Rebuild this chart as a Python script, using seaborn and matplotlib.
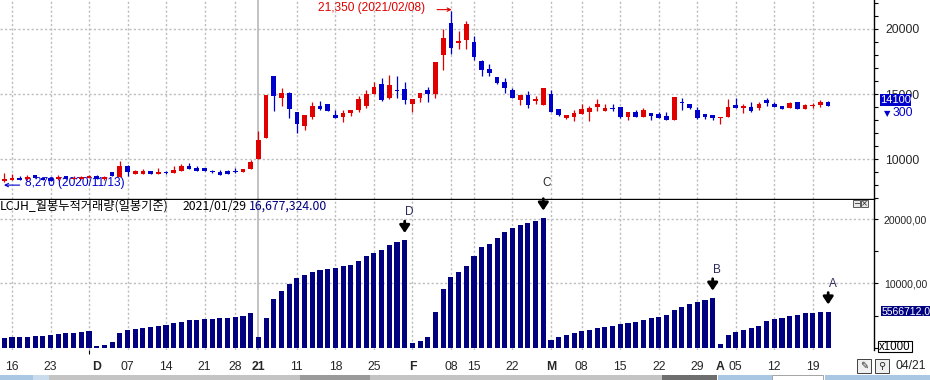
import numpy as np
import pandas as pd
import matplotlib
matplotlib.use("Agg")
import matplotlib.pyplot as plt
import seaborn as sns
from matplotlib.patches import Rectangle

# KRX trading days shown in the chart
holidays = ['2020-12-25', '2020-12-31', '2021-01-01', '2021-02-11', '2021-02-12', '2021-03-01']
dates = pd.bdate_range('2020-11-13', '2021-04-21').drop(pd.to_datetime(holidays))

opens = [8300, 8440, 8590, 8460, 8800, 8590, 8550, 8470, 8720, 8500, 8510, 8590,
         8740, 8470, 9000, 8670, 9510, 8900, 8870, 9100, 8870, 9030, 8970, 9100, 9490, 9330, 9330,
         9100, 9030, 9100, 9130, 9030, 9260,
         10020, 11630, 16410, 14720, 15080, 13630, 12580, 13270, 14090, 14240, 13400, 13270, 13550,
         13800, 14090, 15010, 15780, 14700, 15340, 15390,
         14260, 14700, 15320, 15010, 18000, 20450, 18920, 19150, 18990, 17540, 16920, 16310, 15930,
         15320, 14550, 14930, 14470, 14170,
         15010, 13860, 13160, 13250, 13480, 13630, 14010, 13710, 13930, 14010, 13250, 13630, 13250,
         13550, 13480, 13320, 13010, 14400, 14240, 13780, 13480, 13400,
         13160, 13250, 14170, 13940, 14010, 13930, 14550, 14240, 14090, 13930, 14400, 13860, 14090,
         14170, 14380]
highs = [8980, 8870, 8720, 8800, 8810, 8600, 8570, 8820, 8730, 8700, 8700, 8790,
         8760, 8690, 9050, 9870, 9530, 9180, 9260, 9110, 9330, 9100, 9480, 9640, 9720, 9480, 9340,
         9190, 9180, 9180, 9330, 9270, 9980,
         12180, 14950, 16420, 15470, 15200, 13630, 13400, 14400, 14470, 14240, 13780, 13780, 13780,
         14860, 15320, 15930, 16240, 16470, 16390, 15930,
         14630, 15090, 15570, 17460, 19990, 21350, 19840, 20610, 19460, 17620, 17310, 16310, 16240,
         15470, 14930, 15240, 14860, 15470,
         15320, 13860, 13400, 13780, 14240, 14090, 14630, 14240, 14240, 14010, 13630, 13780, 13930,
         13550, 13630, 13630, 14780, 14700, 14240, 14010, 13480, 13400,
         13240, 14630, 14700, 14240, 14400, 14400, 14700, 14400, 14090, 14400, 14400, 14240, 14320,
         14550, 14480]
lows = [8270, 8420, 8380, 8440, 8560, 8380, 8340, 8450, 8470, 8480, 8500, 8580,
        8500, 8450, 8720, 8650, 8740, 8880, 8860, 8860, 8860, 8900, 8960, 9080, 9250, 9090, 9090,
        8970, 8810, 8890, 8950, 9020, 9250,
        10000, 11600, 13700, 14110, 13190, 12040, 12270, 13110, 13800, 13700, 13190, 12880, 13340,
        13640, 13940, 15010, 14460, 14650, 14720, 14260,
        13650, 14400, 14400, 14700, 16870, 18080, 18460, 18460, 17620, 16390, 16390, 15770, 15090,
        14700, 14170, 13930, 14240, 14170,
        13630, 13340, 13090, 12930, 13480, 12930, 13710, 13710, 13710, 13160, 13010, 13250, 13250,
        13010, 13160, 13010, 13010, 13780, 13860, 13090, 13090, 13010,
        12700, 13250, 13930, 13550, 13630, 13780, 14090, 14010, 13860, 13930, 13860, 13860, 13930,
        14010, 14100]
closes = [8470, 8540, 8390, 8660, 8590, 8400, 8360, 8660, 8490, 8600, 8670, 8740,
          8510, 8670, 8740, 9510, 9000, 9130, 9100, 8870, 9030, 8980, 9180, 9490, 9260, 9100, 9100,
          9030, 8820, 8900, 9050, 9260, 9790,
          11480, 14950, 14880, 15080, 13880, 12730, 13400, 14090, 13860, 13730, 13190, 13550, 13780,
          14630, 15010, 15550, 14570, 15700, 15260, 14570,
          14630, 15090, 15010, 17460, 19320, 18560, 19070, 20380, 17850, 16850, 16620, 15850, 15470,
          14700, 14930, 14170, 14630, 15470,
          13630, 13400, 13400, 13550, 13860, 13930, 14240, 13930, 13860, 13250, 13630, 13250, 13780,
          13320, 13160, 13010, 14780, 14320, 13930, 13160, 13250, 13160,
          13240, 14010, 13930, 14090, 13710, 14240, 14320, 14010, 13860, 14320, 13860, 14170, 14170,
          14400, 14100]
# monthly cumulative volume (x1000 shares)
cum_volume = [1550, 1700, 1710, 1720, 1860, 1870, 2020, 2170, 2330, 2340, 2480, 2640,
              310, 470, 930, 2330, 2750, 2950, 3110, 3260, 3420, 3580, 3890, 4040, 4300, 4310, 4500,
              4510, 4610, 4660, 4820, 4970, 5440,
              1710, 4660, 7570, 8810, 9900, 10830, 11300, 11760, 12070, 12230, 12380, 12690, 12850,
              13470, 14250, 14720, 15180, 15960, 16430, 16677,
              780, 1090, 1710, 5600, 9120, 11040, 11760, 12690, 14250, 15650, 16110, 17050, 17980,
              18600, 19070, 19380, 19740, 20160,
              1190, 1660, 1970, 2330, 2640, 2750, 3110, 3210, 3370, 3680, 3890, 4040, 4300,
              4610, 4770, 5080, 5860, 6320, 6790, 7100, 7410, 7720,
              570, 1970, 2440, 2750, 3060, 3370, 4150, 4460, 4610, 4920, 5080, 5390, 5450,
              5510, 5567]

tick_dates = ['2020-11-16', '2020-11-23', '2020-12-01', '2020-12-07', '2020-12-14', '2020-12-21',
              '2020-12-28', '2021-01-04', '2021-01-11', '2021-01-18', '2021-01-25', '2021-02-01',
              '2021-02-08', '2021-02-15', '2021-02-22', '2021-03-02', '2021-03-08', '2021-03-15',
              '2021-03-22', '2021-03-29', '2021-04-01', '2021-04-05', '2021-04-12', '2021-04-19']
tick_labels = ['16', '23', 'D', '07', '14', '21', '28', '21', '11', '18', '25', 'F', '08', '15',
               '22', 'M', '08', '15', '22', '29', 'A', '05', '12', '19']
bold_labels = ['D', 'F', 'M', 'A']

# signal arrows on the volume panel
signal_dates = ['2021-01-29', '2021-02-26', '2021-03-31', '2021-04-21']
signal_names = ['D', '', 'B', 'A']

RED = '#E00000'
BLUE = '#0000CC'
NAVY = '#000080'
GRID = '#BDBDBD'

df = pd.DataFrame({'date': dates, 'open': opens, 'high': highs, 'low': lows,
                   'close': closes, 'cum_vol': cum_volume})
df['pos'] = np.arange(len(df))
pos_of = {d.strftime('%Y-%m-%d'): p for d, p in zip(df['date'], df['pos'])}

W, H = 930, 380
def fx(px):
    return px / W
def fy(py):
    return 1 - py / H

sns.set_theme(style='white')
ui_font = ['Liberation Sans', 'DejaVu Sans']
kr_font = ['Noto Sans CJK KR', 'DejaVu Sans']
plt.rcParams['font.family'] = ui_font

fig = plt.figure(figsize=(9.3, 3.8), dpi=100)
ax1 = fig.add_axes([0, fy(199), fx(874), 199 / H])
ax2 = fig.add_axes([0, fy(350), fx(874), 150 / H])

xlim = (-0.56, 112.95)

# week-start grid lines + year separator
week = df['date'].dt.isocalendar().week
week_start = df['pos'][(week != week.shift()) & (df['pos'] > 0)]
year_start = df['pos'][(df['date'].dt.year != df['date'].dt.year.shift()) & (df['pos'] > 0)]
for ax in (ax1, ax2):
    for p in week_start:
        if p in set(year_start):
            continue
        ax.axvline(p, color=GRID, lw=1, ls=(0, (1.6, 1.6)), zorder=0)
    for p in year_start:
        ax.axvline(p, color='#B8B8B8', lw=1.2, zorder=0)

# candles
up = df['close'] >= df['open']
colors = np.where(up, RED, BLUE)
ax1.vlines(df['pos'], df['low'], df['high'], colors=colors, lw=0.9, zorder=3)
body_bottom = df[['open', 'close']].min(axis=1)
body_h = (df['close'] - df['open']).abs().clip(lower=75)
ax1.bar(df['pos'], body_h, bottom=body_bottom, width=0.6, color=colors, lw=0, zorder=4)

for v in (10000, 15000, 20000):
    ax1.axhline(v, color=GRID, lw=1, ls=(0, (1.6, 1.6)), zorder=0)
ax1.set_xlim(*xlim)
ax1.set_ylim(6955, 22218)
ax1.yaxis.tick_right()
ax1.set_yticks([10000, 15000, 20000])
ax1.set_yticks(np.arange(7000, 22001, 1000), minor=True)
ax1.set_yticklabels(['10000', '15000', '20000'])
ax1.tick_params(axis='y', which='both', direction='out', length=3, width=0.8, color='black',
                pad=5, labelsize=8.7, right=True, left=False)
ax1.set_xticks([])
for s in ('top', 'left'):
    ax1.spines[s].set_visible(False)
for s in ('right', 'bottom'):
    ax1.spines[s].set_color('black')
    ax1.spines[s].set_linewidth(1)

# high / low annotations
hi = df.loc[df['high'].idxmax()]
lo = df.loc[df['low'].idxmin()]
ax1.text(hi['pos'] - 3.4, 21600, f"{hi['high']:,} ({hi['date']:%Y/%m/%d})", color=RED,
         ha='right', va='center', fontsize=8.6, family=ui_font)
ax1.annotate('', xy=(hi['pos'] + 0.1, 21480), xytext=(hi['pos'] - 1.8, 21480),
             arrowprops=dict(arrowstyle='->', color=RED, lw=0.8, mutation_scale=6,
                             shrinkA=0, shrinkB=0))
ax1.text(lo['pos'] + 2.7, 8180, f"{lo['low']:,} ({lo['date']:%Y/%m/%d})", color=BLUE,
         ha='left', va='center', fontsize=8.6, family=ui_font)
ax1.annotate('', xy=(lo['pos'] - 0.05, 8020), xytext=(lo['pos'] + 2.0, 8020),
             arrowprops=dict(arrowstyle='->', color=BLUE, lw=0.8, mutation_scale=6,
                             shrinkA=0, shrinkB=0))
ax1.text(pos_of['2021-03-02'] - 0.6, 8180, 'C', color='#2A2A2A', ha='center', va='center',
         fontsize=8.5, family=ui_font)

# cumulative volume bars
sns.barplot(data=df, x='pos', y='cum_vol', native_scale=True, color=NAVY, saturation=1,
            width=0.66, errorbar=None, linewidth=0, ax=ax2, zorder=3)
for v in (10000, 20000):
    ax2.axhline(v, color=GRID, lw=1, ls=(0, (1.6, 1.6)), zorder=0)
ax2.set_xlim(*xlim)
ax2.set_ylim(-357, 22953)
ax2.set_xlabel('')
ax2.set_ylabel('')
ax2.yaxis.tick_right()
ax2.set_yticks([10000, 20000])
ax2.set_yticks([0, 5000, 15000], minor=True)
ax2.set_yticklabels(['10000,00', '20000,00'])
ax2.tick_params(axis='y', which='both', direction='out', length=3, width=0.8, color='black',
                pad=4, labelsize=7.6, right=True, left=False)
ax2.set_xticks([pos_of[d] for d in tick_dates])
ax2.set_xticklabels(tick_labels)
ax2.set_xticks(list(week_start), minor=True)
ax2.tick_params(axis='x', which='major', length=0, pad=8, labelsize=8.8)
ax2.tick_params(axis='x', which='minor', direction='out', length=3, width=0.8, color='black',
                bottom=True)
for lab in ax2.get_xticklabels():
    if lab.get_text() in bold_labels or lab.get_position()[0] in set(year_start):
        lab.set_fontweight('bold')
ax2.spines['left'].set_visible(False)
ax2.spines['bottom'].set_visible(False)
ax2.spines['top'].set_visible(False)
ax2.spines['right'].set_color('black')
ax2.spines['right'].set_linewidth(1)

vol_of = dict(zip(df['pos'], df['cum_vol']))
for d, name in zip(signal_dates, signal_names):
    p = pos_of[d]
    top = vol_of[p]
    ax2.annotate('', xy=(p, top + 1150), xytext=(p, top + 3000),
                 arrowprops=dict(arrowstyle='-|>,head_width=0.3,head_length=0.45',
                                 color='black', lw=2.0, mutation_scale=10,
                                 shrinkA=0, shrinkB=0), zorder=5)
    if name:
        ax2.text(p + 0.55, top + 4400, name, color='#2A2A55', ha='center', va='center',
                 fontsize=8.5, family=ui_font)

# panel header
fig.text(fx(0), fy(206.5), 'LCJH_월봉누적거래량(일봉기준)', color='black',
         ha='left', va='center', fontsize=8.8, family=kr_font)
fig.text(fx(183), fy(206.5), f"{dates[pos_of['2021-01-29']]:%Y/%m/%d}", color='black',
         ha='left', va='center', fontsize=8.8, family=kr_font)
fig.text(fx(249), fy(206.5), f"{16677324:,}.00", color=NAVY, ha='left', va='center',
         fontsize=8.8, family=kr_font)

# right-side value boxes
fig.patches.append(Rectangle((fx(880), fy(106)), 31 / W, 12 / H, transform=fig.transFigure,
                             facecolor=BLUE, edgecolor='none', zorder=5))
fig.text(fx(895.5), fy(100), f"{closes[-1]}", color='white', ha='center', va='center',
         fontsize=8, family=ui_font, zorder=6)
fig.text(fx(887), fy(113.5), '▼', color=BLUE, ha='center', va='center', fontsize=6,
         family='DejaVu Sans')
fig.text(fx(893), fy(112.5), f"{closes[-2] - closes[-1]}", color=BLUE, ha='left', va='center',
         fontsize=8.7, family=ui_font)
fig.patches.append(Rectangle((fx(881), fy(316)), 49 / W, 10 / H, transform=fig.transFigure,
                             facecolor=NAVY, edgecolor='none', zorder=5))
fig.text(fx(882), fy(311), '5566712,0', color='white', ha='left', va='center',
         fontsize=7.5, family=ui_font, zorder=6)
fig.patches.append(Rectangle((fx(878), fy(352)), 34 / W, 11 / H, transform=fig.transFigure,
                             facecolor='white', edgecolor='black', lw=0.8, zorder=5))
fig.text(fx(895), fy(346.5), 'x1000', color='black', ha='center', va='center',
         fontsize=8.3, family=ui_font, zorder=6)

# small window buttons
for px0, sym in ((853, '−'), (861, '×')):
    fig.patches.append(Rectangle((fx(px0), fy(207)), 7 / W, 7 / H, transform=fig.transFigure,
                                 facecolor='#E8E8E8', edgecolor='#404040', lw=0.6, zorder=5))
    fig.text(fx(px0 + 3.5), fy(203.5), sym, ha='center', va='center', fontsize=6,
             family='DejaVu Sans', zorder=6)

# bottom-right tool buttons and date
for px0, sym in ((857, '✎'), (875, '⚲')):
    fig.patches.append(Rectangle((fx(px0), fy(373)), 14 / W, 14 / H, transform=fig.transFigure,
                                 facecolor='#F0F0F0', edgecolor='#404040', lw=0.7, zorder=5))
    fig.text(fx(px0 + 7), fy(366), sym, ha='center', va='center', fontsize=7,
             family='DejaVu Sans', zorder=6)
fig.text(fx(911), fy(366), f"{dates[-1]:%m/%d}", ha='center', va='center', fontsize=8.8,
         family=ui_font)

# scroll bar strip
strip = [(0, 33, '#A9C7E3'), (33, 49, '#C9DCEE'), (49, 662, '#C4C4C4'), (300, 370, '#9A9A9A'),
         (662, 717, '#6E6E6E'), (718, 772, '#A9C7E3'), (772, 823, '#FFFFFF'), (825, 930, '#A9C7E3')]
for a, b, c in strip:
    fig.patches.append(Rectangle((fx(a), 0), (b - a) / W, 5 / H, transform=fig.transFigure,
                                 facecolor=c, edgecolor='#808080' if c == '#FFFFFF' else 'none',
                                 lw=0.5, zorder=1))

fig.savefig('out.png', dpi=100)
